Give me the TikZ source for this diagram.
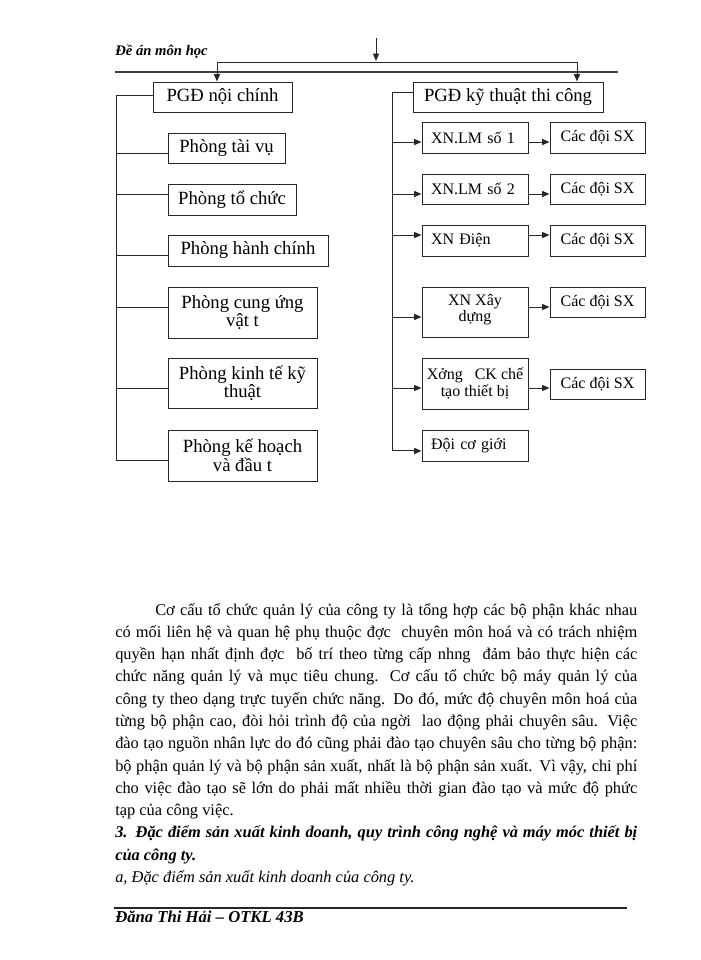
\documentclass[tikz,border=0pt]{standalone}
\usepackage{fontspec}
\setmainfont{Liberation Serif}
\usetikzlibrary{arrows.meta,calc}
\def\pxu{0.75pt}
\begin{document}
\begin{tikzpicture}[x=0.75pt,y=-0.75pt,
  ln/.style={line width=0.75pt,draw=black!85},
  arr/.style={ln,-{Triangle[length=5.5pt,width=4.5pt]}},
  box/.style={draw=black!85,line width=0.75pt,inner sep=0pt,align=center,
    font=\fontsize{14}{11.5}\selectfont},
  bigbox/.style={box,font=\fontsize{14}{13}\selectfont},
  sbox/.style={box,font=\fontsize{12}{10.5}\selectfont},
  lbox/.style={sbox,align=left,text width=88*\pxu,inner xsep=9*\pxu}]
\useasboundingbox (0,0) rectangle (700,960);
\fill[white] (0,0) rectangle (700,960);

% header
\node[anchor=base west,inner sep=0,font=\fontsize{11}{11}\selectfont\bfseries\itshape] (hdr) at (115,55) {Đề án môn học};
\coordinate (hl1) at (115,72); \coordinate (hl2) at (618,72);
\draw[line width=0.9pt,black!75] (hl1) -- (hl2);

% left column
\node[bigbox,minimum width=139*\pxu,minimum height=30*\pxu] (pgdl) at (222.5,97) {PGĐ nội chính};
\node[box,minimum width=117*\pxu,minimum height=30*\pxu] (tv) at (226.5,148) {Phòng tài vụ};
\node[box,minimum width=128*\pxu,minimum height=31*\pxu] (tc) at (232,199.5) {Phòng tổ chức};
\node[box,minimum width=160*\pxu,minimum height=31*\pxu] (hc) at (248,250.5) {Phòng hành chính};
\node[box,minimum width=149*\pxu,minimum height=51*\pxu] (cu) at (242.5,312.5) {Phòng cung ứng\\vật t};
\node[box,minimum width=149*\pxu,minimum height=50*\pxu] (kt) at (242.5,383) {Phòng kinh tế kỹ\\thuật};
\node[box,minimum width=149*\pxu,minimum height=51*\pxu] (kh) at (242.5,455.5) {Phòng kế hoạch\\và đầu t};

% right column
\node[bigbox,minimum width=190*\pxu,minimum height=30*\pxu] (pgdr) at (508,97) {PGĐ kỹ thuật thi công};
\node[lbox,minimum height=31*\pxu] (xn1) at (475,137.5) {XN.LM số 1};
\node[lbox,minimum height=30*\pxu] (xn2) at (475,189) {XN.LM số 2};
\node[lbox,minimum height=31*\pxu] (xn3) at (475,240.5) {XN Điện};
\node[sbox,minimum width=106*\pxu,minimum height=50*\pxu] (xn4) at (475,312) {XN Xây\\dựng\rule[-6pt]{0pt}{6pt}};
\node[sbox,minimum width=106*\pxu,minimum height=51*\pxu] (xn5) at (475,383.5) {Xởng\ \ \ CK chế\\tạo thiết bị};
\node[lbox,minimum height=31*\pxu] (dg) at (475,445.5) {Đội cơ giới};
\node[sbox,minimum width=95*\pxu,minimum height=31*\pxu] (c1) at (597.5,137.5) {Các đội SX};
\node[sbox,minimum width=95*\pxu,minimum height=30*\pxu] (c2) at (597.5,189) {Các đội SX};
\node[sbox,minimum width=95*\pxu,minimum height=31*\pxu] (c3) at (597.5,240.5) {Các đội SX};
\node[sbox,minimum width=95*\pxu,minimum height=30*\pxu] (c4) at (597.5,302) {Các đội SX};
\node[sbox,minimum width=95*\pxu,minimum height=30*\pxu] (c5) at (597.5,384) {Các đội SX};

% top connectors
\coordinate (topin) at (376,38);
\coordinate (topend) at (376,61);
\draw[arr] (topin) -- (topend);
\coordinate (bl) at (217,62); \coordinate (br) at (577,62);
\draw[ln] (bl) -- (br);
\draw[arr] (bl) -- (bl |- pgdl.north);
\draw[arr] (br) -- (br |- pgdr.north);

% left spine
\coordinate (sl) at (116,0);
\draw[ln] ([yshift=1.5pt]pgdl.west) -- ([yshift=1.5pt]pgdl.west -| sl) -- ([yshift=-4.1pt]kh.west -| sl) -- ([yshift=-4.1pt]kh.west);
\draw[ln] ([yshift=-3.75pt]tv.west) -- ([yshift=-3.75pt]tv.west -| sl);
\draw[ln] ([yshift=4.1pt]tc.west) -- ([yshift=4.1pt]tc.west -| sl);
\draw[ln] ([yshift=-3.4pt]hc.west) -- ([yshift=-3.4pt]hc.west -| sl);
\draw[ln] ([yshift=3.4pt]cu.west) -- ([yshift=3.4pt]cu.west -| sl);
\draw[ln] ([yshift=-3.75pt]kt.west) -- ([yshift=-3.75pt]kt.west -| sl);

% right spine
\coordinate (sr) at (392,0);
\draw[ln] ([yshift=3.75pt]pgdr.west) -- ([yshift=3.75pt]pgdr.west -| sr) -- ([yshift=-4.1pt]dg.west -| sr);
\draw[arr] ([yshift=-4.1pt]dg.west -| sr) -- ([yshift=-4.1pt]dg.west);
\draw[arr] ([yshift=-3.4pt]xn1.west -| sr) -- ([yshift=-3.4pt]xn1.west);
\draw[arr] ([yshift=-3.75pt]xn2.west -| sr) -- ([yshift=-3.75pt]xn2.west);
\draw[arr] ([yshift=4.1pt]xn3.west -| sr) -- ([yshift=4.1pt]xn3.west);
\draw[arr] ([yshift=-3.75pt]xn4.west -| sr) -- ([yshift=-3.75pt]xn4.west);
\draw[arr] ([yshift=-3.4pt]xn5.west -| sr) -- ([yshift=-3.4pt]xn5.west);
% row arrows
\draw[arr] ([yshift=-3.4pt]xn1.east) -- ([yshift=-3.4pt]xn1.east -| c1.west);
\draw[arr] ([yshift=-3.75pt]xn2.east) -- ([yshift=-3.75pt]xn2.east -| c2.west);
\draw[arr] ([yshift=4.1pt]xn3.east) -- ([yshift=4.1pt]xn3.east -| c3.west);
\draw[arr] ([yshift=3.75pt]xn4.east) -- ([yshift=3.75pt]xn4.east -| c4.west);
\draw[arr] ([yshift=-3.4pt]xn5.east) -- ([yshift=-3.4pt]xn5.east -| c5.west);

% paragraph
\node[anchor=north west,inner sep=0,text width=522*\pxu,align=justify,
  font=\fontsize{12.3}{16.7}\selectfont] (para) at (115,603) {%
\hspace*{30pt}Cơ cấu tổ chức quản lý của công ty là tổng hợp các bộ phận khác nhau\linebreak
có mối liên hệ và quan hệ phụ thuộc đợc\ \ chuyên môn hoá và có trách nhiệm\linebreak
quyền hạn nhất định đợc\ \ bố trí theo từng cấp nhng\ \ đảm bảo thực hiện các\linebreak
chức năng quản lý và mục tiêu chung. Cơ cấu tổ chức bộ máy quản lý của\linebreak
công ty theo dạng trực tuyến chức năng. Do đó, mức độ chuyên môn hoá của\linebreak
từng bộ phận cao, đòi hỏi trình độ của ngời\ \ lao động phải chuyên sâu. Việc\linebreak
đào tạo nguồn nhân lực do đó cũng phải đào tạo chuyên sâu cho từng bộ phận:\linebreak
bộ phận quản lý và bộ phận sản xuất, nhất là bộ phận sản xuất. Vì vậy, chi phí\linebreak
cho việc đào tạo sẽ lớn do phải mất nhiều thời gian đào tạo và mức độ phức\linebreak
tạp của công việc.\par
{\bfseries\itshape 3. Đặc điểm sản xuất kinh doanh, quy trình công nghệ và máy móc thiết bị\linebreak
của công ty.\par}
{\itshape a, Đặc điểm sản xuất kinh doanh của công ty.\par}};

% footer
\coordinate (fl1) at (114,908); \coordinate (fl2) at (627,908);
\draw[line width=1pt,black!85] (fl1) -- (fl2);
\begin{scope}
\clip (100,900) rectangle (700,921);
\node[anchor=base west,inner sep=0,font=\fontsize{12.5}{12.5}\selectfont\bfseries\itshape] (ftr) at (115,922) {Đặng Thị Hải – QTKL 43B};
\end{scope}
\end{tikzpicture}
\end{document}
